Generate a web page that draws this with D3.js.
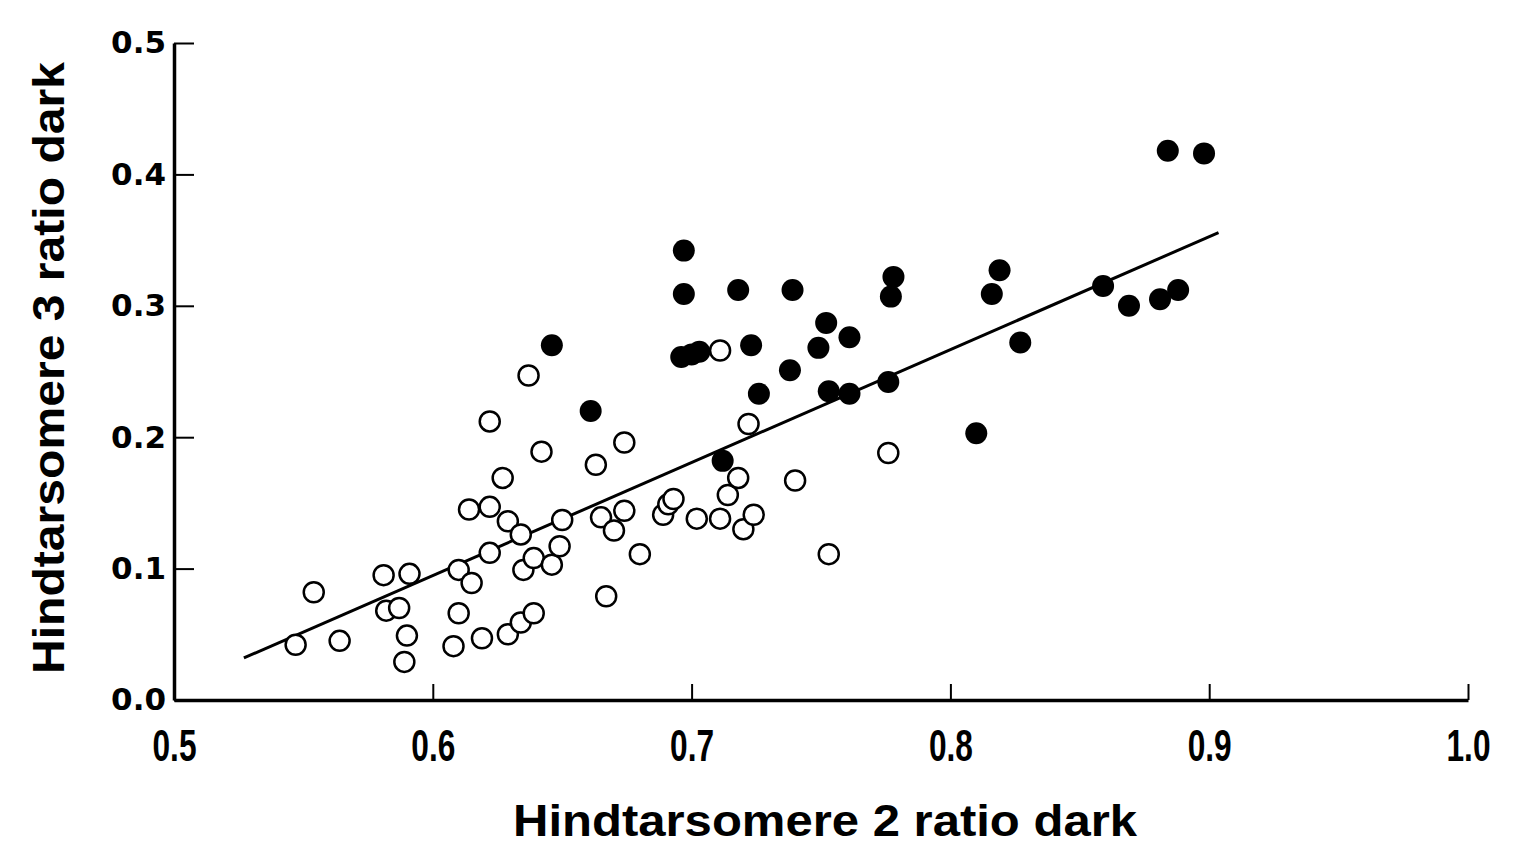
<!DOCTYPE html>
<html><head><meta charset="utf-8">
<script src="https://cdn.jsdelivr.net/npm/d3@7"></script>
<style>body{margin:0;background:#fff}svg{display:block}</style>
</head><body><svg id="c" width="1525" height="846"></svg>
<script>
const xTicks = [0.5, 0.6, 0.7, 0.8, 0.9, 1.0];
const yTicks = [0.0, 0.1, 0.2, 0.3, 0.4, 0.5];
const xTitle = "Hindtarsomere 2 ratio dark";
const yTitle = "Hindtarsomere 3 ratio dark";
// open circles
const openX = [0.547,0.554,0.564,0.581,0.582,0.587,0.591,0.590,0.589,0.608,0.610,0.610,0.615,0.614,0.619,0.622,0.622,0.622,0.627,0.629,0.629,0.634,0.634,0.635,0.637,0.639,0.639,0.642,0.646,0.649,0.650,0.663,0.665,0.667,0.670,0.674,0.674,0.680,0.689,0.691,0.693,0.702,0.711,0.714,0.711,0.718,0.720,0.722,0.724,0.740,0.753,0.776];
const openY = [0.042,0.082,0.045,0.095,0.068,0.070,0.096,0.049,0.029,0.041,0.099,0.066,0.089,0.145,0.047,0.112,0.147,0.212,0.169,0.136,0.050,0.059,0.126,0.099,0.247,0.066,0.108,0.189,0.103,0.117,0.137,0.179,0.139,0.079,0.129,0.196,0.144,0.111,0.141,0.149,0.153,0.138,0.138,0.156,0.266,0.169,0.130,0.210,0.141,0.167,0.111,0.188];
// filled circles
const fillX = [0.646,0.661,0.697,0.697,0.696,0.700,0.703,0.718,0.739,0.723,0.752,0.761,0.749,0.738,0.726,0.753,0.761,0.712,0.778,0.777,0.776,0.819,0.816,0.827,0.810,0.859,0.869,0.881,0.888,0.884,0.898];
const fillY = [0.270,0.220,0.342,0.309,0.261,0.263,0.265,0.312,0.312,0.270,0.287,0.276,0.268,0.251,0.233,0.235,0.233,0.182,0.322,0.307,0.242,0.327,0.309,0.272,0.203,0.315,0.300,0.305,0.312,0.418,0.416];
// regression line endpoints
const lineX = [0.527, 0.9036];
const lineY = [0.032, 0.3557];

const svg = d3.select("#c");
const x = d3.scaleLinear().domain([0.5, 1.0]).range([174, 1468]);
const y = d3.scaleLinear().domain([0, 0.5]).range([700, 43]);

// axes
const gx = svg.append("g").attr("transform","translate(0,700)")
  .call(d3.axisBottom(x).tickValues(xTicks).tickFormat(d3.format(".1f")).tickSize(-16).tickPadding(30).tickSizeOuter(0));
gx.select(".domain").attr("stroke","#000").attr("stroke-width",3.5);
gx.selectAll(".tick line").attr("stroke","#000").attr("stroke-width",2);
gx.selectAll(".tick text").attr("font-family","Liberation Sans, Arial, sans-serif").attr("font-weight","bold")
  .attr("font-size",44).attr("fill","#000")
  .attr("x", 0).attr("y", 30).attr("dy","0.71em").attr("transform","scale(0.72,1)");

const gy = svg.append("g").attr("transform","translate(174,0)")
  .call(d3.axisLeft(y).tickValues(yTicks).tickFormat(d3.format(".1f")).tickSize(-20).tickPadding(10).tickSizeOuter(0));
gy.select(".domain").attr("stroke","#000").attr("stroke-width",3.5);
gy.selectAll(".tick line").attr("stroke","#000").attr("stroke-width",2);
gy.selectAll(".tick text").attr("font-family","DejaVu Sans, Verdana, sans-serif").attr("font-weight","bold")
  .attr("font-size",31).attr("fill","#000").attr("x",-8);

// regression line
svg.append("line")
  .attr("x1", x(lineX[0])).attr("y1", y(lineY[0]))
  .attr("x2", x(lineX[1])).attr("y2", y(lineY[1]))
  .attr("stroke","#000").attr("stroke-width",3);

// points
const openPts = openX.map((v,i)=>[v, openY[i]]);
const fillPts = fillX.map((v,i)=>[v, fillY[i]]);
svg.append("g").selectAll("circle").data(openPts).join("circle")
  .attr("cx", d=>x(d[0])).attr("cy", d=>y(d[1])).attr("r", 10)
  .attr("fill","#fff").attr("stroke","#000").attr("stroke-width",2.5);
svg.append("g").selectAll("circle").data(fillPts).join("circle")
  .attr("cx", d=>x(d[0])).attr("cy", d=>y(d[1])).attr("r", 11)
  .attr("fill","#000");

// titles
svg.append("text").attr("x", 825).attr("y", 836).attr("text-anchor","middle")
  .attr("font-family","Liberation Sans, Arial, sans-serif").attr("font-weight","bold")
  .attr("font-size",44).attr("textLength",624).attr("lengthAdjust","spacingAndGlyphs")
  .text(xTitle);
svg.append("text").attr("transform","translate(64,368) rotate(-90)").attr("text-anchor","middle")
  .attr("font-family","Liberation Sans, Arial, sans-serif").attr("font-weight","bold")
  .attr("font-size",44).attr("textLength",612).attr("lengthAdjust","spacingAndGlyphs")
  .text(yTitle);
</script></body></html>
